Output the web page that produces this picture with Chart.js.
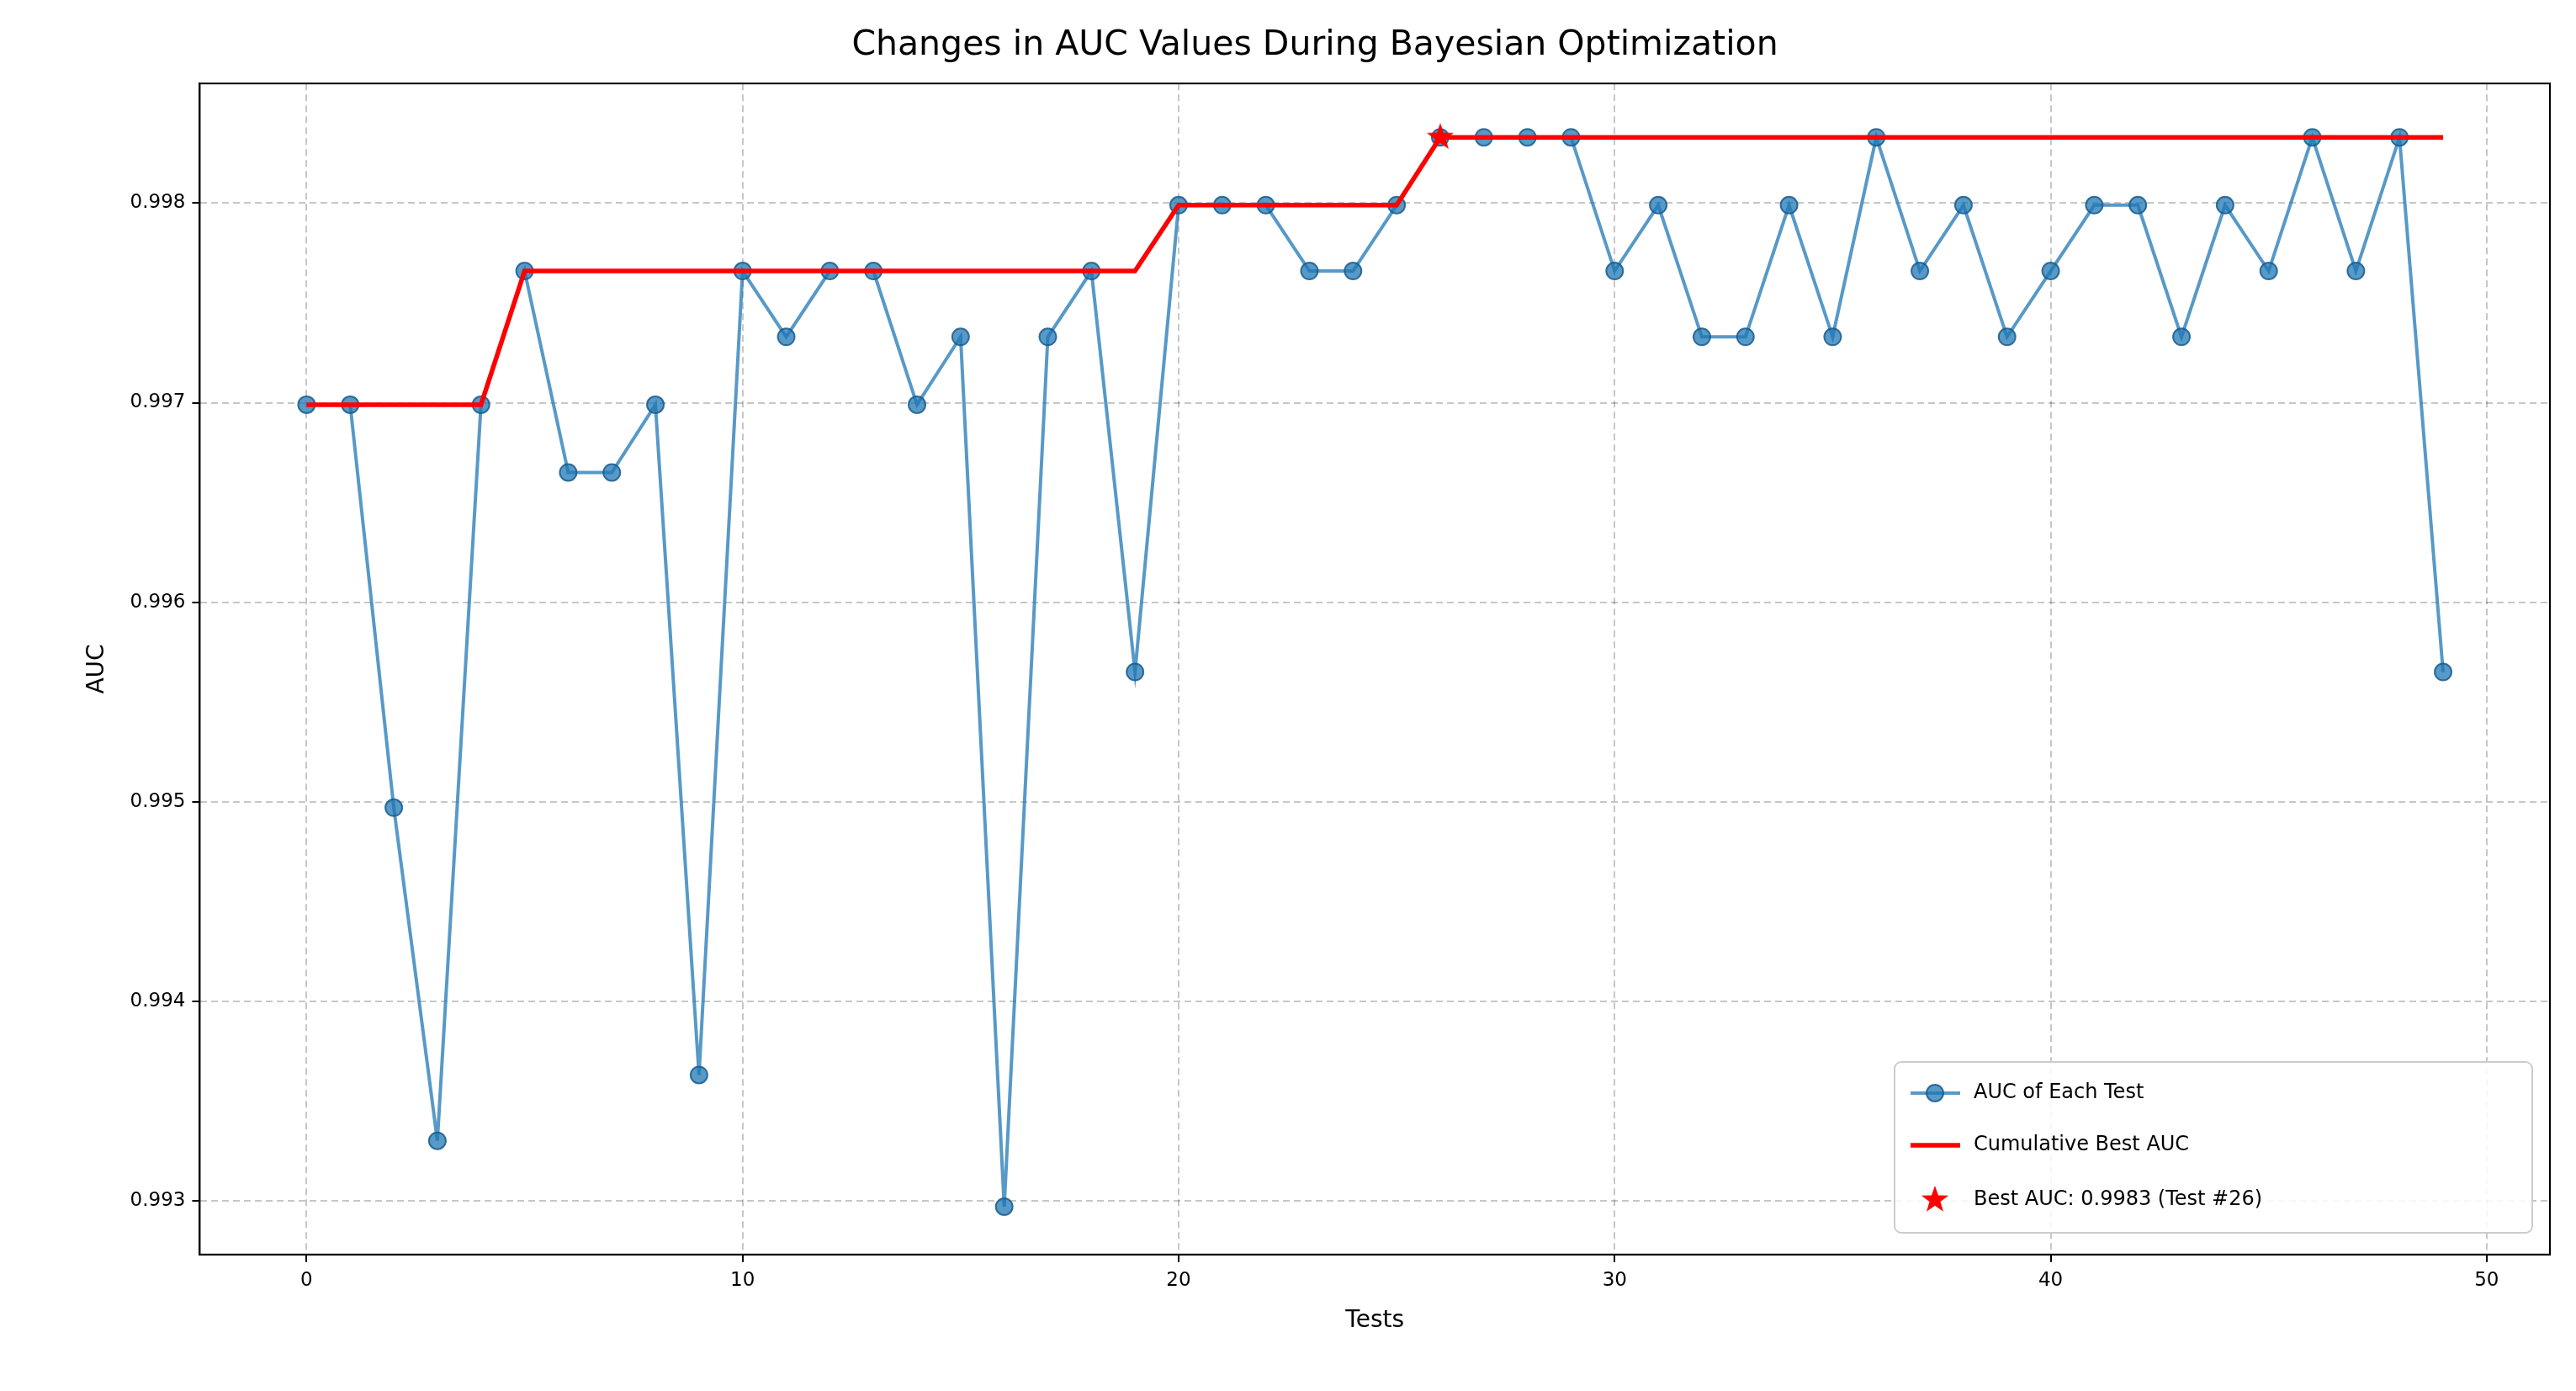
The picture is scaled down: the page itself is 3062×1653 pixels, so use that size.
<!DOCTYPE html>
<html><head><meta charset="utf-8">
<script src="https://cdn.jsdelivr.net/npm/chart.js@4.4.0/dist/chart.umd.min.js"></script>
<style>body{margin:0;background:#fff}canvas{display:block}</style>
</head><body>
<canvas id="c" width="3062" height="1653"></canvas>
<script>
const tests = Array.from({length: 50}, (_, i) => i);
const aucValues = [0.99699,0.99699,0.99497,0.99330,0.99699,0.99766,0.99665,0.99665,0.99699,0.99363,
  0.99766,0.99733,0.99766,0.99766,0.99699,0.99733,0.99297,0.99733,0.99766,0.99565,
  0.99799,0.99799,0.99799,0.99766,0.99766,0.99799,0.99833,0.99833,0.99833,0.99833,
  0.99766,0.99799,0.99733,0.99733,0.99799,0.99733,0.99833,0.99766,0.99799,0.99733,
  0.99766,0.99799,0.99799,0.99733,0.99799,0.99766,0.99833,0.99766,0.99833,0.99565];
const bestSoFar = [0.99699,0.99699,0.99699,0.99699,0.99699,0.99766,0.99766,0.99766,0.99766,0.99766,
  0.99766,0.99766,0.99766,0.99766,0.99766,0.99766,0.99766,0.99766,0.99766,0.99766,
  0.99799,0.99799,0.99799,0.99799,0.99799,0.99799,0.99833,0.99833,0.99833,0.99833,
  0.99833,0.99833,0.99833,0.99833,0.99833,0.99833,0.99833,0.99833,0.99833,0.99833,
  0.99833,0.99833,0.99833,0.99833,0.99833,0.99833,0.99833,0.99833,0.99833,0.99833];
const bestTest = 26;
const bestAuc = 0.99833;
const xTicks = [0, 10, 20, 30, 40, 50];
const yTicks = [0.993, 0.994, 0.995, 0.996, 0.997, 0.998];

const BLUE = 'rgba(31,119,180,0.75)';
const BLUE_EDGE = 'rgba(25,90,140,0.85)';
const RED = '#ff0000';
const FONT = 'DejaVu Sans';

const makeStar = (r) => {
    const c = document.createElement('canvas');
    c.width = c.height = r * 2 + 2;
    const g = c.getContext('2d');
    g.beginPath();
    for (let i = 0; i < 10; i++) {
        const rad = i % 2 ? r * 0.4 : r;
        const a = -Math.PI / 2 + i * Math.PI / 5;
        g.lineTo(r + 1 + rad * Math.cos(a), r + 1 + rad * Math.sin(a));
    }
    g.closePath();
    g.fillStyle = RED;
    g.fill();
    return c;
};
const starImg = makeStar(17);

// full box round the plot area, like matplotlib spines
const framePlugin = {
    id: 'frame',
    afterDatasetsDraw(chart) {
        const {ctx, chartArea: a} = chart;
        ctx.save();
        ctx.strokeStyle = '#000';
        ctx.lineWidth = 2;
        ctx.strokeRect(a.left, a.top, a.right - a.left, a.bottom - a.top);
        ctx.restore();
    }
};

// legend drawn by hand to match the boxed lower-right legend
const legendPlugin = {
    id: 'boxLegend',
    afterDraw(chart) {
        const ctx = chart.ctx;
        const x = 2252, y = 1262, w = 758, h = 203;
        ctx.save();
        ctx.fillStyle = 'rgba(255,255,255,0.85)';
        ctx.strokeStyle = '#cccccc';
        ctx.lineWidth = 2;
        ctx.beginPath();
        ctx.roundRect(x, y, w, h, 8);
        ctx.fill(); ctx.stroke();
        ctx.font = `24px ${FONT}`;
        ctx.fillStyle = '#000';
        ctx.textBaseline = 'middle';
        const rows = [1299, 1361, 1426];
        ctx.strokeStyle = BLUE; ctx.lineWidth = 4;
        ctx.beginPath(); ctx.moveTo(2271, rows[0]); ctx.lineTo(2330, rows[0]); ctx.stroke();
        ctx.fillStyle = BLUE;
        ctx.beginPath(); ctx.arc(2300, rows[0], 10, 0, Math.PI * 2); ctx.fill();
        ctx.strokeStyle = BLUE_EDGE; ctx.lineWidth = 2; ctx.stroke();
        ctx.fillStyle = '#000';
        ctx.fillText('AUC of Each Test', 2346, rows[0]);
        ctx.strokeStyle = RED; ctx.lineWidth = 5.5;
        ctx.beginPath(); ctx.moveTo(2271, rows[1]); ctx.lineTo(2330, rows[1]); ctx.stroke();
        ctx.fillText('Cumulative Best AUC', 2346, rows[1]);
        ctx.drawImage(starImg, 2300 - starImg.width / 2, rows[2] - starImg.height / 2);
        ctx.fillText(`Best AUC: ${bestAuc.toFixed(4)} (Test #${bestTest})`, 2346, rows[2]);
        ctx.restore();
    }
};

const grid = { color: 'rgba(0,0,0,0.22)', lineWidth: 2, drawTicks: true, tickLength: 9, tickColor: '#000' };
const border = { color: '#000', width: 2, dash: [8, 5] };

new Chart(document.getElementById('c'), {
    type: 'line',
    data: {
        datasets: [
            {
                data: tests.map((t, i) => ({x: t, y: aucValues[i]})),
                borderColor: BLUE, backgroundColor: BLUE,
                pointBackgroundColor: BLUE, pointBorderColor: BLUE_EDGE,
                borderWidth: 4, pointRadius: 10, pointBorderWidth: 2, order: 3
            },
            {
                data: tests.map((t, i) => ({x: t, y: bestSoFar[i]})),
                borderColor: RED, borderWidth: 5.5, pointRadius: 0, fill: false, order: 2
            },
            {
                type: 'scatter',
                data: [{x: bestTest, y: bestAuc}],
                pointStyle: starImg, pointRadius: 17, order: 1
            }
        ]
    },
    plugins: [framePlugin, legendPlugin],
    options: {
        responsive: false, animation: false, devicePixelRatio: 1,
        layout: { padding: { left: 95, right: 31, top: 22, bottom: 62 } },
        plugins: {
            legend: { display: false }, tooltip: { enabled: false },
            title: {
                display: true, text: 'Changes in AUC Values During Bayesian Optimization',
                color: '#000', font: { family: FONT, size: 41, weight: 'normal' },
                padding: { top: 8, bottom: 20 }
            }
        },
        scales: {
            x: {
                type: 'linear', min: -2.45, max: 51.45,
                afterBuildTicks: (s) => { s.ticks = xTicks.map(v => ({value: v})); },
                ticks: { color: '#000', font: { family: FONT, size: 23 }, padding: 8, maxRotation: 0 },
                grid: grid,
                border: border,
                title: { display: true, text: 'Tests', color: '#000', font: { family: FONT, size: 28 }, padding: { top: 10 } }
            },
            y: {
                min: 0.99273, max: 0.9986,
                afterBuildTicks: (s) => { s.ticks = yTicks.map(v => ({value: v})); },
                ticks: { color: '#000', font: { family: FONT, size: 23 }, padding: 8, callback: v => v.toFixed(3) },
                grid: grid,
                border: border,
                title: { display: true, text: 'AUC', color: '#000', font: { family: FONT, size: 28 }, padding: { bottom: 14 } }
            }
        }
    }
});
</script>
</body></html>
